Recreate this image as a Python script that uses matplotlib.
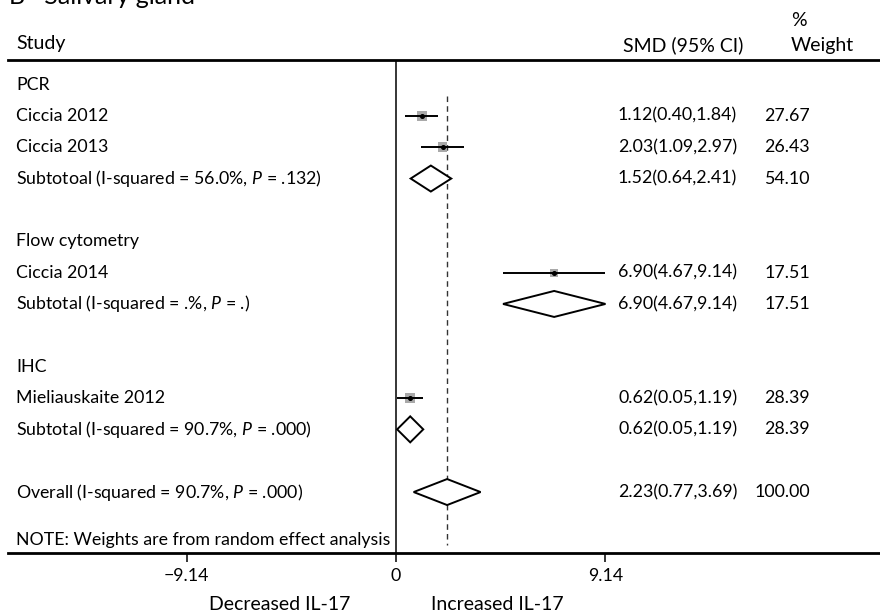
import matplotlib
matplotlib.use("Agg")
import matplotlib.pyplot as plt
from matplotlib.transforms import blended_transform_factory
import numpy as np

# ---------------- data ----------------
study_labels = ["Ciccia 2012", "Ciccia 2013", "Ciccia 2014", "Mieliauskaite 2012"]
study_smd = [1.12, 2.03, 6.90, 0.62]
study_lo = [0.40, 1.09, 4.67, 0.05]
study_hi = [1.84, 2.97, 9.14, 1.19]
study_weight = [27.67, 26.43, 17.51, 28.39]

group_labels = ["PCR", "Flow cytometry", "IHC"]
subtotal_labels = ["Subtotoal (I-squared = 56.0%, $\\mathit{P}$ = .132)",
                   "Subtotal (I-squared = .%, $\\mathit{P}$ = .)",
                   "Subtotal (I-squared = 90.7%, $\\mathit{P}$ = .000)"]
subtotal_smd = [1.52, 6.90, 0.62]
subtotal_lo = [0.64, 4.67, 0.05]
subtotal_hi = [2.41, 9.14, 1.19]
subtotal_weight = [54.10, 17.51, 28.39]

overall_label = "Overall (I-squared = 90.7%, $\\mathit{P}$ = .000)"
overall_smd = 2.23
overall_lo = 0.77
overall_hi = 3.69
overall_weight = 100.00

tick_values = [-9.14, 0, 9.14]
tick_labels = ["\u22129.14", "0", "9.14"]

# ---------------- layout ----------------
W, H = 880, 614
X0, PXU = 396.0, 22.92          # pixel of 0 and pixels per SMD unit
ROW0, DY = 84.5, 31.35          # pixel-y of first row, row spacing
study_rows = [1, 2, 6, 10]
group_rows = [0, 5, 9]
subtotal_rows = [3, 7, 11]
overall_row = 13

def rowy(r):
    return ROW0 + r * DY

plt.rcParams['font.family'] = ['Lato', 'DejaVu Sans']
plt.rcParams['mathtext.fontset'] = 'custom'
plt.rcParams['mathtext.rm'] = 'Lato'
plt.rcParams['mathtext.it'] = 'Lato:italic'

fig = plt.figure(figsize=(W / 100, H / 100), dpi=100)
ax = fig.add_axes([0, 0, 1, 1])
ax.set_xlim((0 - X0) / PXU, (W - X0) / PXU)
ax.set_ylim(H, 0)
for s in ['top', 'left', 'right']:
    ax.spines[s].set_visible(False)
ax.set_yticks([])

AXIS_Y = 553
ax.spines['bottom'].set_position(('data', AXIS_Y))
ax.spines['bottom'].set_bounds((8 - X0) / PXU, (W - X0) / PXU)
ax.spines['bottom'].set_linewidth(2.0)
ax.set_xticks(tick_values)
ax.set_xticklabels(tick_labels, fontsize=12.8)
ax.tick_params(axis='x', direction='out', length=6.5, width=1.1, pad=4, colors='black')

tr = blended_transform_factory(ax.transAxes, ax.transData)
def tx(px):
    return px / W

BODY = 12.8
HEAD = 14

# header
fig.text(tx(9), 1 - 4.5 / H, "B   Salivary gland", fontsize=18, va='baseline', ha='left')
ax.text(tx(16), 44, "Study", fontsize=HEAD, va='center', ha='left', transform=tr)
ax.text(tx(623), 45, "SMD (95% CI)", fontsize=HEAD, va='center', ha='left', transform=tr)
ax.text(tx(791), 20, "%", fontsize=HEAD, va='center', ha='left', transform=tr)
ax.text(tx(791), 45, "Weight", fontsize=HEAD, va='center', ha='left', transform=tr)
ax.axhline(60, xmin=8 / W, xmax=1, color='black', lw=2.0)

# reference lines
ax.vlines(0, 60, AXIS_Y, color='black', lw=1.1)
ax.vlines(overall_smd, 96, 545, color='#333333', lw=1.0, linestyles=(0, (4, 3)))

# group labels
for lab, r in zip(group_labels, group_rows):
    ax.text(tx(16), rowy(r), lab, fontsize=BODY, va='center', ha='left', transform=tr)

def fmt(e, l, h):
    return f"{e:.2f}({l:.2f},{h:.2f})"

# studies
ys = [rowy(r) for r in study_rows]
ax.hlines(ys, study_lo, study_hi, color='black', lw=1.4, zorder=3)
sides = [1.9 * np.sqrt(w) * 0.72 for w in study_weight]
ax.scatter(study_smd, ys, marker='s', s=[sd ** 2 for sd in sides], color='#a9a9a9',
           linewidths=0, zorder=2)
ax.scatter(study_smd, ys, marker='o', s=(3.6 * 0.72) ** 2, color='black', zorder=4)
for lab, e, l, h, w, y in zip(study_labels, study_smd, study_lo, study_hi, study_weight, ys):
    ax.text(tx(16), y, lab, fontsize=BODY, va='center', ha='left', transform=tr)
    ax.text(tx(618), y, fmt(e, l, h), fontsize=BODY, va='center', ha='left', transform=tr)
    ax.text(tx(810), y, f"{w:.2f}", fontsize=BODY, va='center', ha='right', transform=tr)

HALF = 13
def diamond(e, l, h, y):
    ax.fill([l, e, h, e, l], [y, y - HALF, y, y + HALF, y], facecolor='white',
            edgecolor='black', lw=1.4, zorder=3)

for lab, e, l, h, w, r in zip(subtotal_labels, subtotal_smd, subtotal_lo, subtotal_hi,
                              subtotal_weight, subtotal_rows):
    y = rowy(r)
    diamond(e, l, h, y)
    ax.text(tx(16), y, lab, fontsize=BODY, va='center', ha='left', transform=tr)
    ax.text(tx(618), y, fmt(e, l, h), fontsize=BODY, va='center', ha='left', transform=tr)
    ax.text(tx(810), y, f"{w:.2f}", fontsize=BODY, va='center', ha='right', transform=tr)

y = rowy(overall_row)
diamond(overall_smd, overall_lo, overall_hi, y)
ax.text(tx(16), y, overall_label, fontsize=BODY, va='center', ha='left', transform=tr)
ax.text(tx(618), y, fmt(overall_smd, overall_lo, overall_hi), fontsize=BODY, va='center',
        ha='left', transform=tr)
ax.text(tx(810), y, f"{overall_weight:.2f}", fontsize=BODY, va='center', ha='right',
        transform=tr)

ax.text(tx(16), 540, "NOTE: Weights are from random effect analysis", fontsize=BODY,
        va='center', ha='left', transform=tr)

ax.text(tx(280), 604, "Decreased IL-17", fontsize=14, va='center', ha='center', transform=tr)
ax.text(tx(497), 604, "Increased IL-17", fontsize=14, va='center', ha='center', transform=tr)

fig.savefig("out.png", dpi=100)
